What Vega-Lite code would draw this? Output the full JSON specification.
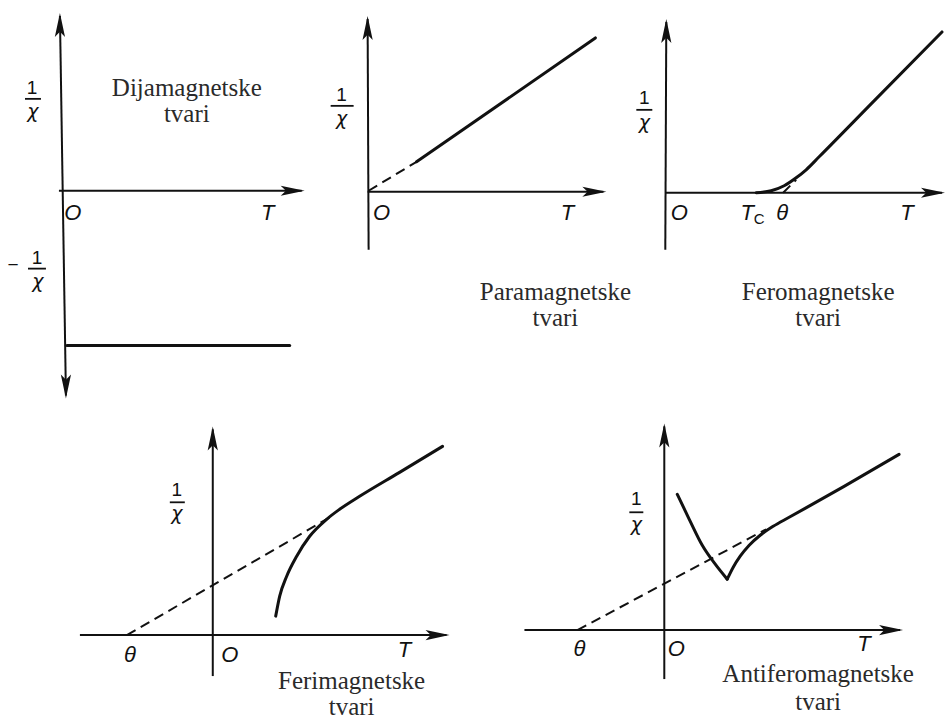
{
  "$schema": "https://vega.github.io/schema/vega-lite/v6.json",
  "width": 946,
  "height": 720,
  "autosize": {"type": "fit", "contains": "padding"},
  "padding": 0,
  "background": "white",
  "config": {"view": {"stroke": null}},
  "datasets": {
    "lines": [
      {"g": "a1v", "kind": "axis", "o": 0, "x": 60, "y": 16},
      {"g": "a1v", "kind": "axis", "o": 1, "x": 66, "y": 396},
      {"g": "a1h", "kind": "axis", "o": 0, "x": 59, "y": 191},
      {"g": "a1h", "kind": "axis", "o": 1, "x": 302, "y": 191},
      {"g": "a2v", "kind": "axis", "o": 0, "x": 368, "y": 19},
      {"g": "a2v", "kind": "axis", "o": 1, "x": 369, "y": 250},
      {"g": "a2h", "kind": "axis", "o": 0, "x": 368, "y": 192},
      {"g": "a2h", "kind": "axis", "o": 1, "x": 604, "y": 192},
      {"g": "a3v", "kind": "axis", "o": 0, "x": 667, "y": 22},
      {"g": "a3v", "kind": "axis", "o": 1, "x": 666, "y": 250},
      {"g": "a3h", "kind": "axis", "o": 0, "x": 666, "y": 193},
      {"g": "a3h", "kind": "axis", "o": 1, "x": 943, "y": 193},
      {"g": "a4v", "kind": "axis", "o": 0, "x": 213, "y": 430},
      {"g": "a4v", "kind": "axis", "o": 1, "x": 213, "y": 677},
      {"g": "a4h", "kind": "axis", "o": 0, "x": 80, "y": 636},
      {"g": "a4h", "kind": "axis", "o": 1, "x": 447, "y": 636},
      {"g": "a5v", "kind": "axis", "o": 0, "x": 665, "y": 427},
      {"g": "a5v", "kind": "axis", "o": 1, "x": 665, "y": 680},
      {"g": "a5h", "kind": "axis", "o": 0, "x": 525, "y": 631},
      {"g": "a5h", "kind": "axis", "o": 1, "x": 901, "y": 631},

      {"g": "c1", "kind": "curve", "o": 0, "x": 67, "y": 346},
      {"g": "c1", "kind": "curve", "o": 1, "x": 290, "y": 346},
      {"g": "c2", "kind": "curve", "o": 0, "x": 417, "y": 162},
      {"g": "c2", "kind": "curve", "o": 1, "x": 596, "y": 38},
      {"g": "c3", "kind": "curve", "o": 0, "x": 757, "y": 193},
      {"g": "c3", "kind": "curve", "o": 1, "x": 772, "y": 191},
      {"g": "c3", "kind": "curve", "o": 2, "x": 785, "y": 186},
      {"g": "c3", "kind": "curve", "o": 3, "x": 797, "y": 178},
      {"g": "c3", "kind": "curve", "o": 4, "x": 807, "y": 170},
      {"g": "c3", "kind": "curve", "o": 5, "x": 820, "y": 157},
      {"g": "c3", "kind": "curve", "o": 6, "x": 875, "y": 101},
      {"g": "c3", "kind": "curve", "o": 7, "x": 943, "y": 32},
      {"g": "c4", "kind": "curve", "o": 0, "x": 276, "y": 617},
      {"g": "c4", "kind": "curve", "o": 1, "x": 280, "y": 597},
      {"g": "c4", "kind": "curve", "o": 2, "x": 287, "y": 577},
      {"g": "c4", "kind": "curve", "o": 3, "x": 297, "y": 557},
      {"g": "c4", "kind": "curve", "o": 4, "x": 310, "y": 537},
      {"g": "c4", "kind": "curve", "o": 5, "x": 327, "y": 520},
      {"g": "c4", "kind": "curve", "o": 6, "x": 340, "y": 510},
      {"g": "c4", "kind": "curve", "o": 7, "x": 360, "y": 497},
      {"g": "c4", "kind": "curve", "o": 8, "x": 400, "y": 473},
      {"g": "c4", "kind": "curve", "o": 9, "x": 443, "y": 447},
      {"g": "c5a", "kind": "curve", "o": 0, "x": 678, "y": 495},
      {"g": "c5a", "kind": "curve", "o": 1, "x": 690, "y": 520},
      {"g": "c5a", "kind": "curve", "o": 2, "x": 703, "y": 546},
      {"g": "c5a", "kind": "curve", "o": 3, "x": 716, "y": 565},
      {"g": "c5a", "kind": "curve", "o": 4, "x": 728, "y": 580},
      {"g": "c5b", "kind": "curve", "o": 0, "x": 728, "y": 580},
      {"g": "c5b", "kind": "curve", "o": 1, "x": 734, "y": 568},
      {"g": "c5b", "kind": "curve", "o": 2, "x": 741, "y": 557},
      {"g": "c5b", "kind": "curve", "o": 3, "x": 750, "y": 546},
      {"g": "c5b", "kind": "curve", "o": 4, "x": 761, "y": 536},
      {"g": "c5b", "kind": "curve", "o": 5, "x": 774, "y": 527},
      {"g": "c5b", "kind": "curve", "o": 6, "x": 790, "y": 518},
      {"g": "c5b", "kind": "curve", "o": 7, "x": 845, "y": 487},
      {"g": "c5b", "kind": "curve", "o": 8, "x": 900, "y": 455},

      {"g": "d2", "kind": "dash", "o": 0, "x": 369, "y": 191},
      {"g": "d2", "kind": "dash", "o": 1, "x": 417, "y": 162},
      {"g": "d3", "kind": "dash", "o": 0, "x": 784, "y": 193},
      {"g": "d3", "kind": "dash", "o": 1, "x": 797, "y": 180},
      {"g": "d4", "kind": "dash", "o": 0, "x": 127, "y": 636},
      {"g": "d4", "kind": "dash", "o": 1, "x": 332, "y": 517},
      {"g": "d5", "kind": "dash", "o": 0, "x": 578, "y": 631},
      {"g": "d5", "kind": "dash", "o": 1, "x": 767, "y": 530},

      {"g": "f1", "kind": "bar", "o": 0, "x": 25, "y": 99},
      {"g": "f1", "kind": "bar", "o": 1, "x": 41, "y": 99},
      {"g": "f1n", "kind": "bar", "o": 0, "x": 28, "y": 269},
      {"g": "f1n", "kind": "bar", "o": 1, "x": 46, "y": 269},
      {"g": "f2", "kind": "bar", "o": 0, "x": 331, "y": 106},
      {"g": "f2", "kind": "bar", "o": 1, "x": 354, "y": 106},
      {"g": "f3", "kind": "bar", "o": 0, "x": 637, "y": 110},
      {"g": "f3", "kind": "bar", "o": 1, "x": 653, "y": 110},
      {"g": "f4", "kind": "bar", "o": 0, "x": 170, "y": 503},
      {"g": "f4", "kind": "bar", "o": 1, "x": 185, "y": 503},
      {"g": "f5", "kind": "bar", "o": 0, "x": 630, "y": 513},
      {"g": "f5", "kind": "bar", "o": 1, "x": 644, "y": 513}
    ],
    "arrows": [
      {"x": 60, "y": 13, "dir": 0},
      {"x": 66, "y": 399, "dir": 180},
      {"x": 305, "y": 191, "dir": 90},
      {"x": 368, "y": 16, "dir": 0},
      {"x": 607, "y": 192, "dir": 90},
      {"x": 667, "y": 19, "dir": 0},
      {"x": 946, "y": 193, "dir": 90},
      {"x": 213, "y": 427, "dir": 0},
      {"x": 450, "y": 636, "dir": 90},
      {"x": 665, "y": 424, "dir": 0},
      {"x": 904, "y": 631, "dir": 90}
    ],
    "labels": [
      {"kind": "caption", "x": 187, "y": 96, "t": "Dijamagnetske"},
      {"kind": "caption", "x": 187, "y": 122, "t": "tvari"},
      {"kind": "caption", "x": 556, "y": 300, "t": "Paramagnetske"},
      {"kind": "caption", "x": 556, "y": 326, "t": "tvari"},
      {"kind": "caption", "x": 819, "y": 300, "t": "Feromagnetske"},
      {"kind": "caption", "x": 819, "y": 326, "t": "tvari"},
      {"kind": "caption", "x": 352, "y": 690, "t": "Ferimagnetske"},
      {"kind": "caption", "x": 352, "y": 716, "t": "tvari"},
      {"kind": "caption", "x": 819, "y": 683, "t": "Antiferomagnetske"},
      {"kind": "caption", "x": 819, "y": 711, "t": "tvari"},

      {"kind": "sym", "x": 73, "y": 220, "t": "O"},
      {"kind": "sym", "x": 268, "y": 220, "t": "T"},
      {"kind": "sym", "x": 382, "y": 220, "t": "O"},
      {"kind": "sym", "x": 568, "y": 220, "t": "T"},
      {"kind": "sym", "x": 680, "y": 220, "t": "O"},
      {"kind": "sym", "x": 748, "y": 220, "t": "T"},
      {"kind": "sym", "x": 783, "y": 220, "t": "θ"},
      {"kind": "sym", "x": 908, "y": 220, "t": "T"},
      {"kind": "sym", "x": 130, "y": 663, "t": "θ"},
      {"kind": "sym", "x": 230, "y": 663, "t": "O"},
      {"kind": "sym", "x": 405, "y": 658, "t": "T"},
      {"kind": "sym", "x": 580, "y": 657, "t": "θ"},
      {"kind": "sym", "x": 677, "y": 657, "t": "O"},
      {"kind": "sym", "x": 865, "y": 652, "t": "T"},
      {"kind": "sub", "x": 760, "y": 224, "t": "C"},

      {"kind": "num", "x": 32, "y": 88, "t": "1"},
      {"kind": "num", "x": 13, "y": 265, "t": "−"},
      {"kind": "num", "x": 37, "y": 258, "t": "1"},
      {"kind": "num", "x": 342, "y": 95, "t": "1"},
      {"kind": "num", "x": 645, "y": 98, "t": "1"},
      {"kind": "num", "x": 177, "y": 491, "t": "1"},
      {"kind": "num", "x": 637, "y": 500, "t": "1"},
      {"kind": "chi", "x": 33, "y": 112, "t": "χ"},
      {"kind": "chi", "x": 38, "y": 282, "t": "χ"},
      {"kind": "chi", "x": 342, "y": 119, "t": "χ"},
      {"kind": "chi", "x": 645, "y": 123, "t": "χ"},
      {"kind": "chi", "x": 177, "y": 515, "t": "χ"},
      {"kind": "chi", "x": 637, "y": 526, "t": "χ"}
    ]
  },
  "encoding": {
    "x": {"field": "x", "type": "quantitative", "scale": {"domain": [0, 946], "nice": false, "zero": false}, "axis": null},
    "y": {"field": "y", "type": "quantitative", "scale": {"domain": [0, 720], "nice": false, "zero": false, "reverse": true}, "axis": null}
  },
  "layer": [
    {
      "data": {"name": "lines"},
      "transform": [{"filter": "datum.kind === 'axis'"}],
      "mark": {"type": "line", "color": "#111111", "strokeWidth": 2},
      "encoding": {"detail": {"field": "g"}, "order": {"field": "o", "type": "quantitative"}}
    },
    {
      "data": {"name": "lines"},
      "transform": [{"filter": "datum.kind === 'curve'"}],
      "mark": {"type": "line", "color": "#111111", "strokeWidth": 3, "strokeJoin": "round", "strokeCap": "round", "interpolate": "monotone"},
      "encoding": {"detail": {"field": "g"}, "order": {"field": "o", "type": "quantitative"}}
    },
    {
      "data": {"name": "lines"},
      "transform": [{"filter": "datum.kind === 'dash'"}],
      "mark": {"type": "line", "color": "#111111", "strokeWidth": 2, "strokeDash": [10, 6]},
      "encoding": {"detail": {"field": "g"}, "order": {"field": "o", "type": "quantitative"}}
    },
    {
      "data": {"name": "lines"},
      "transform": [{"filter": "datum.kind === 'bar'"}],
      "mark": {"type": "line", "color": "#111111", "strokeWidth": 1.8},
      "encoding": {"detail": {"field": "g"}, "order": {"field": "o", "type": "quantitative"}}
    },
    {
      "data": {"name": "arrows"},
      "mark": {"type": "point", "shape": "M0,0L0.34,1.6L0,1.25L-0.34,1.6Z", "filled": true, "color": "#111111", "size": 900, "opacity": 1, "strokeWidth": 0},
      "encoding": {"angle": {"field": "dir", "type": "quantitative", "scale": null}}
    },
    {
      "data": {"name": "labels"},
      "transform": [{"filter": "datum.kind === 'caption'"}],
      "mark": {"type": "text", "font": "Liberation Serif", "fontSize": 25, "align": "center", "baseline": "alphabetic", "color": "#2a2a2a"},
      "encoding": {"text": {"field": "t"}}
    },
    {
      "data": {"name": "labels"},
      "transform": [{"filter": "datum.kind === 'sym'"}],
      "mark": {"type": "text", "font": "Liberation Sans", "fontSize": 22, "fontStyle": "italic", "align": "center", "baseline": "alphabetic", "color": "#111111"},
      "encoding": {"text": {"field": "t"}}
    },
    {
      "data": {"name": "labels"},
      "transform": [{"filter": "datum.kind === 'sub'"}],
      "mark": {"type": "text", "font": "Liberation Sans", "fontSize": 15, "align": "center", "baseline": "alphabetic", "color": "#111111"},
      "encoding": {"text": {"field": "t"}}
    },
    {
      "data": {"name": "labels"},
      "transform": [{"filter": "datum.kind === 'num'"}],
      "mark": {"type": "text", "font": "Liberation Sans", "fontSize": 19, "align": "center", "baseline": "middle", "color": "#111111"},
      "encoding": {"text": {"field": "t"}}
    },
    {
      "data": {"name": "labels"},
      "transform": [{"filter": "datum.kind === 'chi'"}],
      "mark": {"type": "text", "font": "DejaVu Sans", "fontSize": 19, "fontStyle": "italic", "align": "center", "baseline": "middle", "color": "#111111"},
      "encoding": {"text": {"field": "t"}}
    }
  ]
}
